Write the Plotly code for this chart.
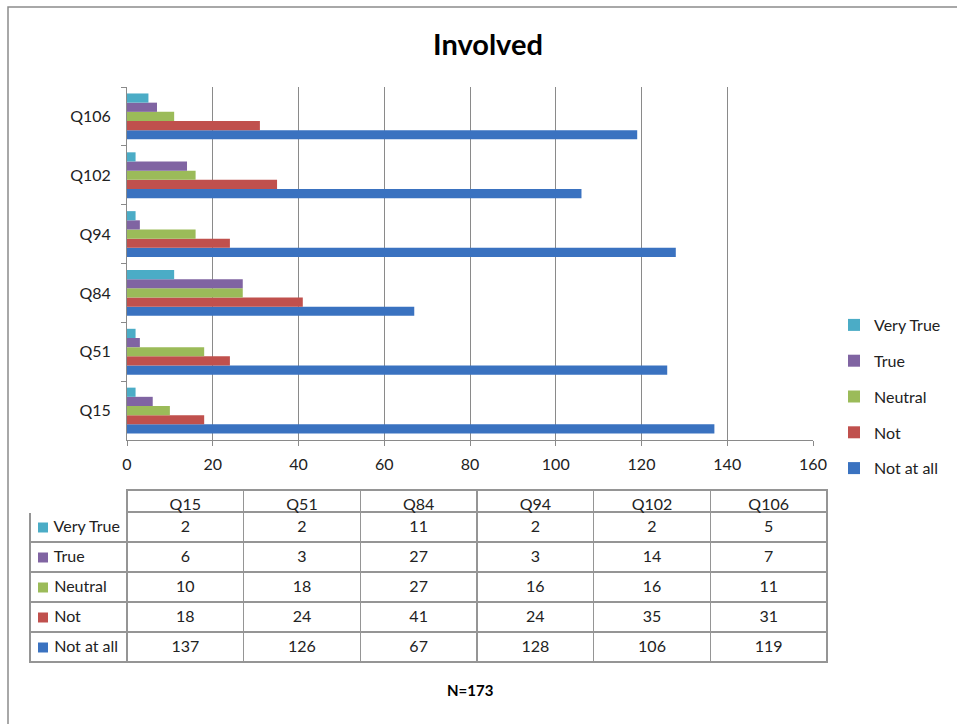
import plotly.graph_objects as go

questions = ["Q15", "Q51", "Q84", "Q94", "Q102", "Q106"]
series_names = ["Very True", "True", "Neutral", "Not", "Not at all"]
very_true = [2, 2, 11, 2, 2, 5]
true_vals = [6, 3, 27, 3, 14, 7]
neutral = [10, 18, 27, 16, 16, 11]
not_vals = [18, 24, 41, 24, 35, 31]
not_at_all = [137, 126, 67, 128, 106, 119]
colors = ["#4BACC6", "#8064A2", "#9BBB59", "#C0504D", "#3A72C0"]
title_text = "Involved"
note_text = "N=173"

W, H = 957, 724
FONT = "Lato, 'Open Sans', Arial, sans-serif"
GRID = "#8a8a8a"
TLINE = "#959595"

values = [very_true, true_vals, neutral, not_vals, not_at_all]

fig = go.Figure()
# Plotly draws the first trace at the bottom of each group -> add in reverse
for i in reversed(range(len(series_names))):
    fig.add_trace(go.Bar(
        y=questions, x=values[i], name=series_names[i], orientation="h",
        marker=dict(color=colors[i], line=dict(width=0)),
        legendgroup=series_names[i], legendrank=i + 1,
        xaxis="x", yaxis="y",
    ))

def px_x(p):
    return p / W

def px_y(p):
    return 1 - p / H

# ---- data table ----
TBL_L, TBL_R = 30, 827
HDR_TOP, HDR_H, ROW_H = 490, 22, 30
rows_top = HDR_TOP + HDR_H
first_col = ["\u2002\u00a0\u00a0" + n.replace(" ", "\u00a0") for n in series_names]
cols = [first_col] + [[values[s][q] for s in range(len(series_names))] for q in range(len(questions))]
fig.add_trace(go.Table(
    domain=dict(x=[px_x(TBL_L), px_x(TBL_R)],
                y=[px_y(rows_top + ROW_H * len(series_names) + 1), px_y(HDR_TOP)]),
    columnwidth=[97] + [116.7] * 6,
    header=dict(
        values=[""] + questions,
        height=HDR_H,
        align="center",
        fill=dict(color="white"),
        line=dict(color=["white"] + [TLINE] * 6, width=1.5),
        font=dict(family=FONT, size=16, color="#222"),
    ),
    cells=dict(
        values=cols,
        height=ROW_H,
        align=["left"] + ["center"] * 6,
        fill=dict(color="white"),
        line=dict(color=TLINE, width=1.5),
        font=dict(family=FONT, size=16, color="#222"),
    ),
))

# colour keys in the first table column
shapes = [dict(type="rect", xref="paper", yref="paper",
               x0=px_x(8), x1=px_x(1000), y0=px_y(1000), y1=px_y(7),
               line=dict(color="#8c8c8c", width=1.5))]
for i, c in enumerate(colors):
    cy = rows_top + ROW_H * i + 15.5
    shapes.append(dict(type="rect", xref="paper", yref="paper",
                       x0=px_x(38), x1=px_x(48), y0=px_y(cy + 5), y1=px_y(cy - 5),
                       fillcolor=c, line=dict(width=0)))

fig.update_layout(
    width=W, height=H,
    margin=dict(l=0, r=0, t=0, b=0, autoexpand=False),
    paper_bgcolor="white", plot_bgcolor="white",
    barmode="group", bargap=0.22, bargroupgap=0,
    font=dict(family=FONT, size=16, color="#222"),
    showlegend=True,
    legend=dict(
        x=px_x(834), y=px_y(308), xanchor="left", yanchor="top",
        traceorder="grouped", tracegroupgap=12,
        font=dict(family=FONT, size=16, color="#222"),
        itemwidth=30, bgcolor="rgba(0,0,0,0)",
    ),
    xaxis=dict(
        domain=[px_x(127), px_x(813)], range=[0, 160], dtick=20,
        showgrid=True, gridcolor=GRID, gridwidth=1,
        zeroline=False, showline=True, linecolor=GRID, linewidth=1,
        ticks="outside", ticklen=5, tickcolor=GRID,
        tickfont=dict(family=FONT, size=16, color="#222"),
        ticklabelstandoff=5, automargin=False,
        fixedrange=True, anchor="y",
    ),
    yaxis=dict(
        domain=[px_y(440), px_y(87)],
        showgrid=False, showline=True, linecolor=GRID, linewidth=1,
        ticks="outside", ticklen=5, tickcolor=GRID, tickson="boundaries",
        tickfont=dict(family=FONT, size=16, color="#222"),
        ticklabelstandoff=12, automargin=False, anchor="x",
    ),
    shapes=shapes,
    annotations=[
        dict(text="<b>%s</b>" % title_text, x=px_x(488), y=px_y(44), xref="paper", yref="paper",
             xanchor="center", yanchor="middle",
             showarrow=False, font=dict(family=FONT, size=29, color="#000")),
        dict(text="<b>%s</b>" % note_text, x=px_x(470), y=px_y(690), xref="paper", yref="paper",
             xanchor="center", yanchor="middle",
             showarrow=False, font=dict(family=FONT, size=15, color="#000")),
    ],
)

fig.write_html(
    "out.html",
    config={"displayModeBar": False},
    post_script="document.body.style.margin='0';document.body.style.overflow='hidden';"
                "document.documentElement.style.overflow='hidden';",
)
